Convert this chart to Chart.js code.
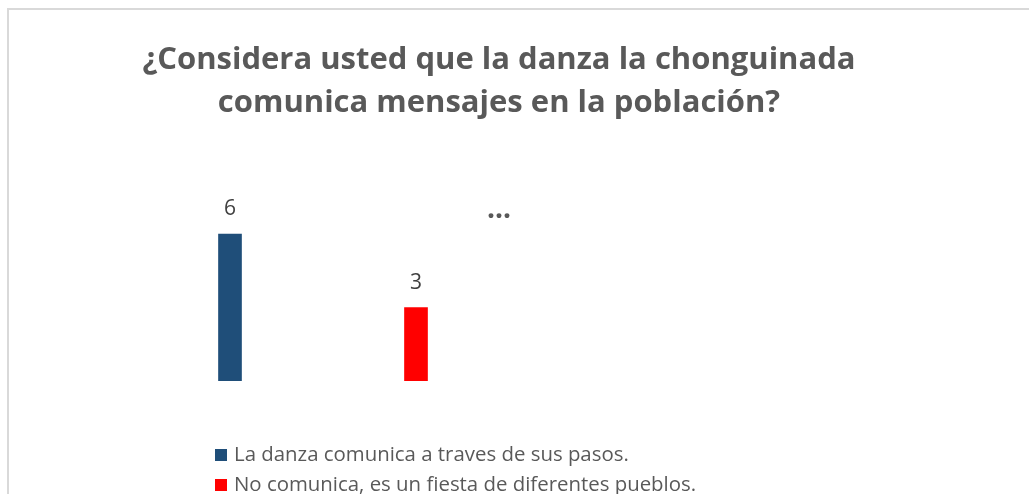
<!DOCTYPE html>
<html>
<head>
<meta charset="utf-8">
<script src="https://cdn.jsdelivr.net/npm/chart.js@4.4.1/dist/chart.umd.min.js"></script>
<style>
    html, body { margin: 0; padding: 0; background: #ffffff; }
    #wrap { position: relative; width: 1029px; height: 494px; overflow: hidden; }
    #frame {
        position: absolute; left: 7px; top: 8px; width: 1100px; height: 600px;
        border-left: 2px solid #d9d9d9; border-top: 2px solid #d9d9d9;
        box-sizing: border-box;
    }
    canvas { position: absolute; left: 0; top: 0; }
    #title {
        position: absolute; left: 0; width: 998px; top: 36px; text-align: center;
        font-family: 'Open Sans', sans-serif; font-weight: bold; font-size: 31px; line-height: 43px;
        color: #595959; white-space: nowrap;
    }
    #legend { position: absolute; left: 215px; top: 439px; font-family: 'Open Sans', sans-serif; font-size: 20.4px; color: #595959; }
    #legend .item { height: 30px; line-height: 28px; white-space: nowrap; }
    #legend .box { display: inline-block; width: 12px; height: 12px; margin-right: 7px; vertical-align: 0px; }
</style>
</head>
<body>
<div id="wrap">
    <div id="frame"></div>
    <canvas id="chart" width="1029" height="494"></canvas>
    <div id="title"></div>
    <div id="legend"></div>
</div>
<script>
// datos del gráfico
const categorias = ['La danza comunica a traves de sus pasos.', 'No comunica, es un fiesta de diferentes pueblos.'];
const valores = [6, 3];
const colores = ['#1f4e79', '#ff0000'];
const tituloLineas = ['¿Considera usted que la danza la chonguinada', 'comunica mensajes en la población?'];
const etiquetaExtra = '...';

// etiquetas de valor encima de las barras
const valueLabels = {
    id: 'valueLabels',
    afterDatasetsDraw(chart) {
        const ctx = chart.ctx;
        ctx.save();
        ctx.font = "21px 'Open Sans', sans-serif";
        ctx.fillStyle = '#404040';
        ctx.textAlign = 'center';
        ctx.textBaseline = 'bottom';
        chart.data.datasets.forEach((ds, i) => {
            const meta = chart.getDatasetMeta(i);
            meta.data.forEach((bar, j) => {
                if (ds.data[j] === null) return;
                ctx.fillText(ds.data[j], bar.x, bar.y - 14);
            });
        });
        // etiqueta truncada "..."
        ctx.font = "bold 28px 'Open Sans', sans-serif";
        ctx.fillStyle = '#595959';
        ctx.textAlign = 'right';
        ctx.fillText(etiquetaExtra, chart.chartArea.right + 2, chart.scales.y.getPixelForValue(6.4));
        ctx.restore();
    }
};

// un dataset por categoría para que cada barra tenga su color
const datasets = categorias.map((cat, i) => ({
    label: cat,
    data: categorias.map((c, j) => j === i ? valores[i] : null),
    backgroundColor: colores[i],
    barThickness: 23,
    skipNull: true
}));

new Chart(document.getElementById('chart').getContext('2d'), {
    type: 'bar',
    data: {
        labels: categorias.map(() => ''),
        datasets: datasets
    },
    options: {
        responsive: false,
        animation: false,
        maintainAspectRatio: false,
        layout: {
            padding: { left: 137, right: 520, top: 185, bottom: 113 }
        },
        plugins: {
            legend: { display: false },
            tooltip: { enabled: false },
            title: { display: false }
        },
        scales: {
            x: {
                display: false,
                grid: { display: false }
            },
            y: {
                display: false,
                min: 0,
                max: 8,
                grid: { display: false }
            }
        }
    },
    plugins: [valueLabels]
});

// título en HTML
document.getElementById('title').innerHTML = tituloLineas.join('<br>');

// leyenda en HTML
const legend = document.getElementById('legend');
categorias.forEach((cat, i) => {
    const item = document.createElement('div');
    item.className = 'item';
    const box = document.createElement('span');
    box.className = 'box';
    box.style.background = colores[i];
    item.appendChild(box);
    item.appendChild(document.createTextNode(cat));
    legend.appendChild(item);
});
</script>
</body>
</html>
